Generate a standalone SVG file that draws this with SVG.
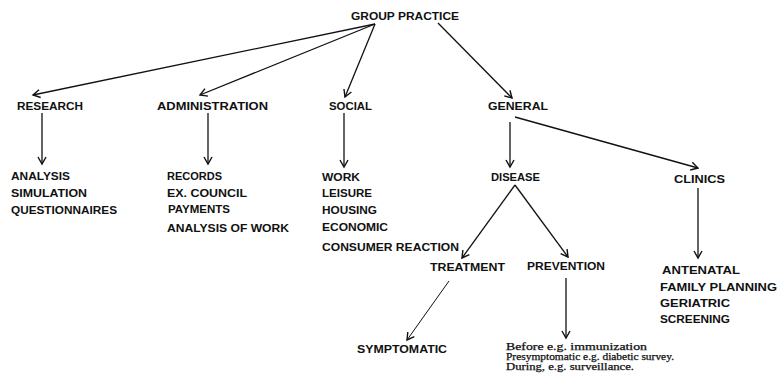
<svg xmlns="http://www.w3.org/2000/svg" width="779" height="380" viewBox="0 0 779 380">
<style>
.c{font-family:"Liberation Sans","DejaVu Sans",sans-serif;font-weight:bold;font-size:11px;fill:#111}
.h{font-size:11.5px}
.s{font-family:"Liberation Serif","DejaVu Serif",serif;font-size:9.5px;fill:#111;stroke:#111;stroke-width:0.25}
.e{stroke:#111;stroke-width:1.3;fill:none;marker-end:url(#a)}
</style>
<defs>
<marker id="a" markerUnits="userSpaceOnUse" markerWidth="14" markerHeight="14" viewBox="-8 -7 10 14" refX="0" refY="0" orient="auto">
<path d="M-7,-4 L0,0 L-7,4" fill="none" stroke="#111" stroke-width="1.4"/>
</marker>
</defs>
<rect width="779" height="380" fill="#fff"/>
<g id="connectors">
<line class="e" x1="375" y1="24" x2="33" y2="95"/>
<line class="e" x1="375" y1="24" x2="200" y2="95"/>
<line class="e" x1="375" y1="24" x2="345" y2="97"/>
<line class="e" x1="438" y1="23" x2="512" y2="98"/>
<line class="e" x1="42" y1="113" x2="42" y2="164"/>
<line class="e" x1="208" y1="113" x2="208" y2="164"/>
<line class="e" x1="344" y1="113" x2="344" y2="167"/>
<line class="e" x1="510" y1="122" x2="510" y2="167"/>
<line class="e" x1="515" y1="117" x2="698" y2="168"/>
<line class="e" x1="515" y1="185" x2="462" y2="258"/>
<line class="e" x1="515" y1="185" x2="568" y2="257"/>
<line class="e" x1="698" y1="188" x2="698" y2="258"/>
<line class="e" x1="566" y1="278" x2="566" y2="338"/>
<line class="e" x1="449" y1="281" x2="407" y2="340" style="stroke-width:1"/>
</g>
<g id="group-practice"><text class="c h" x="351" y="20" textLength="108" lengthAdjust="spacingAndGlyphs">GROUP PRACTICE</text></g>
<g id="research">
<text class="c h" x="17" y="110" textLength="66" lengthAdjust="spacingAndGlyphs">RESEARCH</text>
<text class="c" x="11" y="180" textLength="59" lengthAdjust="spacingAndGlyphs">ANALYSIS</text>
<text class="c" x="11" y="197" textLength="76" lengthAdjust="spacingAndGlyphs">SIMULATION</text>
<text class="c" x="11" y="214" textLength="106" lengthAdjust="spacingAndGlyphs">QUESTIONNAIRES</text>
</g>
<g id="administration">
<text class="c h" x="157" y="110" textLength="111" lengthAdjust="spacingAndGlyphs">ADMINISTRATION</text>
<text class="c" x="167" y="180" textLength="55" lengthAdjust="spacingAndGlyphs">RECORDS</text>
<text class="c" x="167" y="197" textLength="80" lengthAdjust="spacingAndGlyphs">EX. COUNCIL</text>
<text class="c" x="168" y="213" textLength="62" lengthAdjust="spacingAndGlyphs">PAYMENTS</text>
<text class="c" x="167" y="232" textLength="122" lengthAdjust="spacingAndGlyphs">ANALYSIS OF WORK</text>
</g>
<g id="social">
<text class="c h" x="329" y="110" textLength="43" lengthAdjust="spacingAndGlyphs">SOCIAL</text>
<text class="c" x="322" y="181" textLength="38" lengthAdjust="spacingAndGlyphs">WORK</text>
<text class="c" x="322" y="197" textLength="50" lengthAdjust="spacingAndGlyphs">LEISURE</text>
<text class="c" x="322" y="214" textLength="55" lengthAdjust="spacingAndGlyphs">HOUSING</text>
<text class="c" x="322" y="231" textLength="66" lengthAdjust="spacingAndGlyphs">ECONOMIC</text>
<text class="c" x="322" y="251" textLength="137" lengthAdjust="spacingAndGlyphs">CONSUMER REACTION</text>
</g>
<g id="general"><text class="c h" x="488" y="110" textLength="60" lengthAdjust="spacingAndGlyphs">GENERAL</text></g>
<g id="disease"><text class="c" x="491" y="181" textLength="49" lengthAdjust="spacingAndGlyphs">DISEASE</text></g>
<g id="clinics">
<text class="c" x="674" y="183" textLength="51" lengthAdjust="spacingAndGlyphs">CLINICS</text>
<text class="c" x="662" y="274" textLength="78" lengthAdjust="spacingAndGlyphs">ANTENATAL</text>
<text class="c" x="660" y="291" textLength="117" lengthAdjust="spacingAndGlyphs">FAMILY PLANNING</text>
<text class="c" x="660" y="307" textLength="70" lengthAdjust="spacingAndGlyphs">GERIATRIC</text>
<text class="c" x="660" y="323" textLength="70" lengthAdjust="spacingAndGlyphs">SCREENING</text>
</g>
<g id="treatment">
<text class="c" x="430" y="271" textLength="75" lengthAdjust="spacingAndGlyphs">TREATMENT</text>
<text class="c" x="357" y="353" textLength="90" lengthAdjust="spacingAndGlyphs">SYMPTOMATIC</text>
</g>
<g id="prevention">
<text class="s" x="506" y="350" textLength="141" lengthAdjust="spacingAndGlyphs">Before e.g. immunization</text>
<text class="s" x="506" y="360" textLength="168" lengthAdjust="spacingAndGlyphs">Presymptomatic e.g. diabetic survey.</text>
<text class="s" x="506" y="370" textLength="128" lengthAdjust="spacingAndGlyphs">During, e.g. surveillance.</text>
<text class="c" x="527" y="270" textLength="78" lengthAdjust="spacingAndGlyphs">PREVENTION</text>
</g>
</svg>
